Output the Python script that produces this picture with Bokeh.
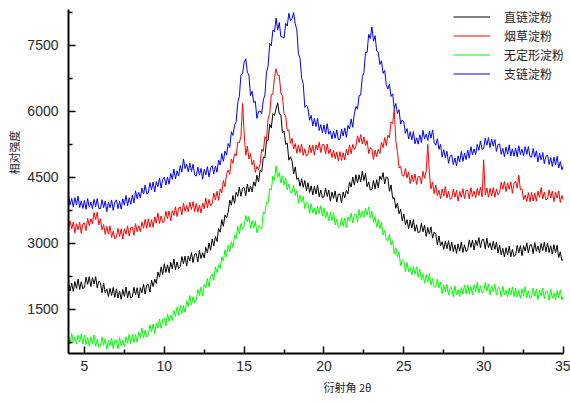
from bokeh.plotting import figure
from bokeh.models import Range1d, FixedTicker, Legend, LegendItem, Title
from bokeh.embed import file_html
from bokeh.resources import INLINE

# diffraction angle grid, 4.0 .. 35.0 in 0.1 degree steps
two_theta = [round(4.0 + 0.1 * i, 1) for i in range(311)]

amylose = [  # 直链淀粉 (black)
    2110, 1920, 2100, 1912, 2135, 1978, 2190, 1955, 2130, 1970,
    2010, 2235, 2070, 2245, 2020, 2225, 2080, 2245, 1990, 2140,
    2110, 1880, 2100, 1875, 1970, 1795, 1980, 1815, 2000, 1775,
    1970, 1760, 1920, 1732, 1955, 1797, 2010, 1762, 1925, 1757,
    1790, 2005, 1830, 1995, 1760, 1995, 1880, 2075, 1850, 2050,
    2070, 1895, 2170, 2020, 2190, 2090, 2350, 2235, 2470, 2295,
    2540, 2342, 2515, 2337, 2570, 2422, 2645, 2407, 2580, 2428,
    2475, 2702, 2540, 2712, 2485, 2717, 2600, 2792, 2565, 2758,
    2770, 2582, 2845, 2657, 2790, 2670, 2910, 2785, 3010, 2845,
    3100, 2945, 3160, 3045, 3340, 3255, 3540, 3390, 3650, 3580,
    3710, 3985, 3870, 4090, 3910, 4165, 4070, 4280, 4070, 4260,
    4270, 4085, 4350, 4168, 4305, 4172, 4400, 4300, 4550, 4395,
    4660, 4625, 4960, 4945, 5340, 5340, 5710, 5625, 5950, 5905,
    6060, 6195, 5940, 5925, 5510, 5555, 5250, 5280, 4890, 4970,
    4870, 4580, 4740, 4455, 4490, 4300, 4470, 4275, 4430, 4195,
    4380, 4160, 4310, 4100, 4300, 4125, 4320, 4062, 4215, 4037,
    4060, 4257, 4065, 4212, 3960, 4167, 4025, 4192, 3940, 4120,
    4120, 3920, 4170, 4032, 4215, 4127, 4400, 4280, 4510, 4325,
    4560, 4375, 4560, 4395, 4640, 4430, 4590, 4290, 4400, 4215,
    4230, 4430, 4240, 4450, 4260, 4530, 4450, 4610, 4350, 4510,
    4490, 4185, 4330, 4025, 4040, 3800, 3920, 3675, 3780, 3515,
    3670, 3420, 3540, 3330, 3530, 3350, 3540, 3277, 3425, 3242,
    3260, 3457, 3265, 3412, 3160, 3362, 3215, 3377, 3120, 3255,
    3210, 2965, 3170, 2945, 3040, 2865, 3050, 2882, 3065, 2837,
    3030, 2815, 2970, 2775, 2990, 2825, 3030, 2795, 2970, 2815,
    2860, 3080, 2910, 3080, 2850, 3075, 2950, 3135, 2900, 3085,
    3090, 2880, 3120, 2907, 3015, 2852, 3050, 2865, 3030, 2785,
    2960, 2740, 2890, 2692, 2905, 2737, 2940, 2697, 2865, 2702,
    2740, 2957, 2785, 2952, 2720, 2950, 2830, 3015, 2780, 2965,
    2970, 2770, 3020, 2820, 2940, 2790, 3000, 2840, 3030, 2810,
    3010, 2795, 2950, 2755, 2970, 2780, 2960, 2680, 2810, 2610,
    2650,
]

tobacco = [  # 烟草淀粉 (red)
    3310, 3515, 3330, 3485, 3240, 3450, 3310, 3480, 3230, 3440,
    3470, 3295, 3570, 3405, 3560, 3450, 3700, 3540, 3710, 3425,
    3560, 3310, 3430, 3205, 3390, 3210, 3400, 3135, 3280, 3107,
    3135, 3342, 3160, 3330, 3100, 3330, 3210, 3400, 3170, 3360,
    3370, 3185, 3450, 3265, 3400, 3265, 3490, 3345, 3550, 3345,
    3560, 3365, 3540, 3367, 3605, 3462, 3690, 3452, 3625, 3467,
    3510, 3732, 3565, 3737, 3510, 3747, 3635, 3832, 3610, 3810,
    3830, 3650, 3920, 3730, 3860, 3720, 3940, 3770, 3950, 3720,
    3910, 3707, 3875, 3692, 3920, 3790, 4030, 3810, 4000, 3855,
    3910, 4145, 3990, 4185, 3980, 4240, 4150, 4430, 4290, 4570,
    4670, 4570, 4920, 4820, 5040, 4990, 5300, 5290, 5430, 6180,
    5510, 5000, 5210, 4920, 5040, 4780, 4890, 4615, 4750, 4680,
    4810, 5145, 5090, 5425, 5360, 5830, 5950, 6380, 6390, 6770,
    6970, 6820, 6820, 6420, 6340, 5940, 5900, 5565, 5580, 5275,
    5390, 5145, 5270, 5050, 5240, 5065, 5260, 5000, 5150, 4985,
    5020, 5235, 5060, 5232, 5005, 5237, 5120, 5302, 5065, 5247,
    5250, 5030, 5260, 5040, 5140, 4950, 5120, 4925, 5080, 4872,
    5085, 4887, 5060, 4895, 5140, 5005, 5240, 5040, 5250, 5130,
    5210, 5445, 5290, 5475, 5260, 5415, 5220, 5340, 5040, 5180,
    5140, 4905, 5120, 4970, 5140, 5040, 5300, 5177, 5405, 5222,
    5460, 5400, 5760, 5720, 6050, 5330, 5090, 4715, 4750, 4540,
    4530, 4705, 4490, 4625, 4360, 4555, 4400, 4580, 4340, 4520,
    4520, 4355, 4640, 4480, 4640, 5250, 4600, 4240, 4390, 4130,
    4330, 4085, 4210, 4020, 4240, 4080, 4290, 4032, 4185, 4007,
    4030, 4235, 4050, 4205, 3960, 4180, 4050, 4245, 4020, 4205,
    4210, 4012, 4265, 4067, 4190, 4040, 4250, 4090, 4280, 4060,
    4900, 4100, 4260, 4050, 4250, 4075, 4270, 4050, 4240, 4100,
    4160, 4390, 4230, 4405, 4180, 4380, 4230, 4395, 4140, 4365,
    4410, 4255, 4550, 4220, 4240, 3990, 4100, 3952, 4155, 3947,
    4160, 3965, 4140, 3960, 4190, 4045, 4270, 4015, 4170, 3990,
    4010, 4217, 4035, 4192, 3950, 4165, 4030, 4190, 3930, 4090,
    3980,
]

amorphous = [  # 无定形淀粉 (green)
    920, 715, 960, 755, 870, 715, 920, 755, 940, 717,
    915, 702, 860, 665, 880, 715, 920, 665, 820, 645,
    670, 872, 685, 837, 590, 807, 675, 852, 610, 795,
    800, 605, 860, 670, 800, 660, 880, 732, 935, 727,
    940, 747, 925, 752, 990, 850, 1080, 850, 1030, 877,
    925, 1152, 990, 1170, 950, 1190, 1080, 1285, 1070, 1275,
    1300, 1125, 1400, 1225, 1370, 1245, 1480, 1345, 1560, 1365,
    1590, 1405, 1590, 1435, 1690, 1570, 1820, 1600, 1790, 1650,
    1710, 1957, 1815, 2012, 1810, 2072, 1985, 2207, 2010, 2247,
    2305, 2162, 2470, 2332, 2515, 2427, 2700, 2602, 2855, 2697,
    2960, 2812, 3035, 2907, 3190, 3105, 3390, 3215, 3450, 3320,
    3390, 3635, 3490, 3615, 3340, 3520, 3350, 3505, 3240, 3395,
    3370, 3320, 3720, 3670, 3940, 3915, 4250, 4215, 4530, 4435,
    4760, 4500, 4610, 4370, 4540, 4330, 4490, 4215, 4350, 4155,
    4160, 4320, 4090, 4200, 3910, 4095, 3930, 4070, 3790, 3940,
    3910, 3680, 3900, 3692, 3805, 3647, 3850, 3677, 3855, 3622,
    3810, 3580, 3720, 3510, 3710, 3520, 3700, 3420, 3550, 3367,
    3385, 3582, 3390, 3575, 3360, 3605, 3500, 3692, 3465, 3657,
    3670, 3495, 3770, 3595, 3740, 3590, 3800, 3640, 3830, 3572,
    3735, 3487, 3610, 3370, 3540, 3330, 3490, 3190, 3300, 3080,
    3060, 3207, 2965, 3062, 2760, 2905, 2700, 2805, 2490, 2632,
    2595, 2357, 2570, 2352, 2455, 2287, 2480, 2300, 2470, 2230,
    2410, 2175, 2310, 2095, 2290, 2117, 2315, 2052, 2200, 2005,
    2010, 2195, 1990, 2125, 1860, 2055, 1900, 2072, 1825, 1997,
    1990, 1786, 2033, 1830, 1946, 1793, 2000, 1852, 2055, 1847,
    2060, 1855, 2020, 1835, 2060, 1905, 2120, 1875, 2040, 1875,
    1910, 2112, 1925, 2077, 1830, 2040, 1900, 2072, 1825, 1997,
    1990, 1785, 2030, 1825, 1940, 1785, 1990, 1827, 2015, 1792,
    1990, 1780, 1940, 1750, 1970, 1810, 2020, 1767, 1925, 1752,
    1780, 1987, 1805, 1963, 1722, 1941, 1810, 1987, 1745, 1917,
    1910, 1708, 1957, 1755, 1873, 1721, 1930, 1762, 1945, 1717,
    1820,
]

amylopectin = [  # 支链淀粉 (blue)
    4090, 3872, 4025, 3827, 4040, 3872, 4075, 3817, 3970, 3795,
    3980, 3775, 4020, 3820, 3940, 3790, 4000, 3835, 4020, 3795,
    3790, 3995, 3810, 3965, 3720, 3940, 3810, 3990, 3750, 3940,
    3990, 3790, 3960, 3782, 4015, 3867, 4090, 3860, 4040, 3890,
    4100, 3922, 4195, 4017, 4160, 4030, 4260, 4120, 4330, 4130,
    4150, 4380, 4220, 4395, 4170, 4405, 4290, 4485, 4260, 4455,
    4510, 4325, 4510, 4345, 4590, 4455, 4690, 4465, 4650, 4530,
    4770, 4620, 4920, 4700, 4800, 4630, 4820, 4635, 4800, 4555,
    4530, 4735, 4550, 4705, 4460, 4685, 4560, 4745, 4510, 4710,
    4770, 4580, 4760, 4620, 4890, 4780, 5040, 4865, 5100, 5005,
    5270, 5180, 5540, 5455, 5690, 5765, 6200, 6340, 6830, 6860,
    7110, 7195, 6890, 6825, 6360, 6455, 6200, 6230, 5840, 5995,
    6010, 5950, 6260, 6370, 6890, 7030, 7540, 7490, 7850, 7805,
    8120, 7845, 8020, 7695, 7690, 7665, 8000, 7940, 8230, 8060,
    8110, 8245, 7990, 7850, 7310, 7205, 6750, 6630, 6090, 6145,
    6060, 5800, 5910, 5670, 5840, 5655, 5840, 5565, 5700, 5515,
    5690, 5480, 5720, 5480, 5560, 5375, 5550, 5390, 5580, 5360,
    5360, 5595, 5440, 5625, 5410, 5680, 5600, 5830, 5640, 5945,
    6110, 6050, 6360, 6370, 6790, 6880, 7340, 7340, 7750, 7655,
    7920, 7595, 7720, 7370, 7340, 7065, 7150, 6865, 6930, 6610,
    6510, 6620, 6340, 6400, 6060, 6180, 5950, 6040, 5710, 5805,
    5760, 5500, 5610, 5370, 5540, 5355, 5540, 5265, 5400, 5255,
    5470, 5295, 5570, 5370, 5490, 5340, 5550, 5390, 5580, 5295,
    5230, 5380, 5140, 5250, 4960, 5130, 4950, 5095, 4820, 4985,
    5010, 4790, 4940, 4760, 4990, 4855, 5090, 4865, 5050, 4905,
    5120, 4935, 5200, 5015, 5150, 5020, 5250, 5115, 5330, 5135,
    5160, 5390, 5230, 5405, 5180, 5370, 5210, 5360, 5090, 5245,
    5260, 5025, 5160, 4970, 5190, 5030, 5240, 4990, 5150, 4980,
    5170, 4970, 5220, 5020, 5140, 4990, 5200, 5025, 5200, 4970,
    4960, 5155, 4960, 5105, 4850, 5050, 4900, 5065, 4810, 4980,
    5010, 4795, 4950, 4750, 4960, 4785, 4980, 4715, 4860, 4675,
    4760,
]

series_names = ["直链淀粉", "烟草淀粉", "无定形淀粉", "支链淀粉"]
series_colors = ["#000000", "#ff0000", "#00ff00", "#0000ff"]
series_values = [amylose, tobacco, amorphous, amylopectin]

x_ticks = [5, 10, 15, 20, 25, 30, 35]
x_minor = [7.5, 12.5, 17.5, 22.5, 27.5, 32.5]
y_ticks = [1500, 3000, 4500, 6000, 7500]
y_minor = [750, 2250, 3750, 5250, 6750, 8250]

p = figure(width=570, height=403, x_range=Range1d(4, 35), y_range=Range1d(500, 8315),
           output_backend="svg", toolbar_location=None,
           min_border_left=68, min_border_right=7, min_border_top=9, min_border_bottom=50)
p.outline_line_color = None
p.xgrid.visible = False
p.ygrid.visible = False
p.background_fill_color = "white"
p.border_fill_color = "white"

renderers = []
for name, color, vals in zip(series_names, series_colors, series_values):
    r = p.line(two_theta, vals, line_color=color, line_width=1)
    renderers.append(r)

for ax in (p.xaxis[0], p.yaxis[0]):
    ax.axis_line_width = 2
    ax.axis_line_color = "black"
    ax.major_tick_in = 7
    ax.major_tick_out = 0
    ax.minor_tick_in = 4
    ax.minor_tick_out = 0
    ax.major_tick_line_width = 1.5
    ax.minor_tick_line_width = 1.5
    ax.major_label_text_font = "Liberation Sans"
    ax.major_label_text_font_size = "14px"
    ax.major_label_text_color = "#2a2a2a"

p.xaxis[0].ticker = FixedTicker(ticks=x_ticks, minor_ticks=x_minor)
p.yaxis[0].ticker = FixedTicker(ticks=y_ticks, minor_ticks=y_minor)
p.xaxis[0].major_label_standoff = 7
p.yaxis[0].major_label_standoff = 10

# axis titles, offset along the axis like the reference
y_title = Title(text="相对强度", align="right", offset=121, standoff=6,
                text_font="Noto Sans CJK SC", text_font_size="11px",
                text_font_style="normal", text_color="#222222")
x_title = Title(text="衍射角 2θ", align="left", offset=255, standoff=6,
                text_font="Noto Sans CJK SC", text_font_size="11px",
                text_font_style="normal", text_color="#222222")
p.add_layout(y_title, "left")
p.add_layout(x_title, "below")

legend = Legend(items=[LegendItem(label=n, renderers=[r]) for n, r in zip(series_names, renderers)],
                location=(385, 271), padding=0, margin=0, spacing=2,
                glyph_width=37, glyph_height=15, label_height=15, label_standoff=14,
                label_text_font="Noto Sans CJK SC", label_text_font_size="12px",
                label_text_color="#222222", border_line_color=None, background_fill_alpha=0)
p.add_layout(legend, "center")

open("out.html", "w").write(file_html(p, INLINE))
